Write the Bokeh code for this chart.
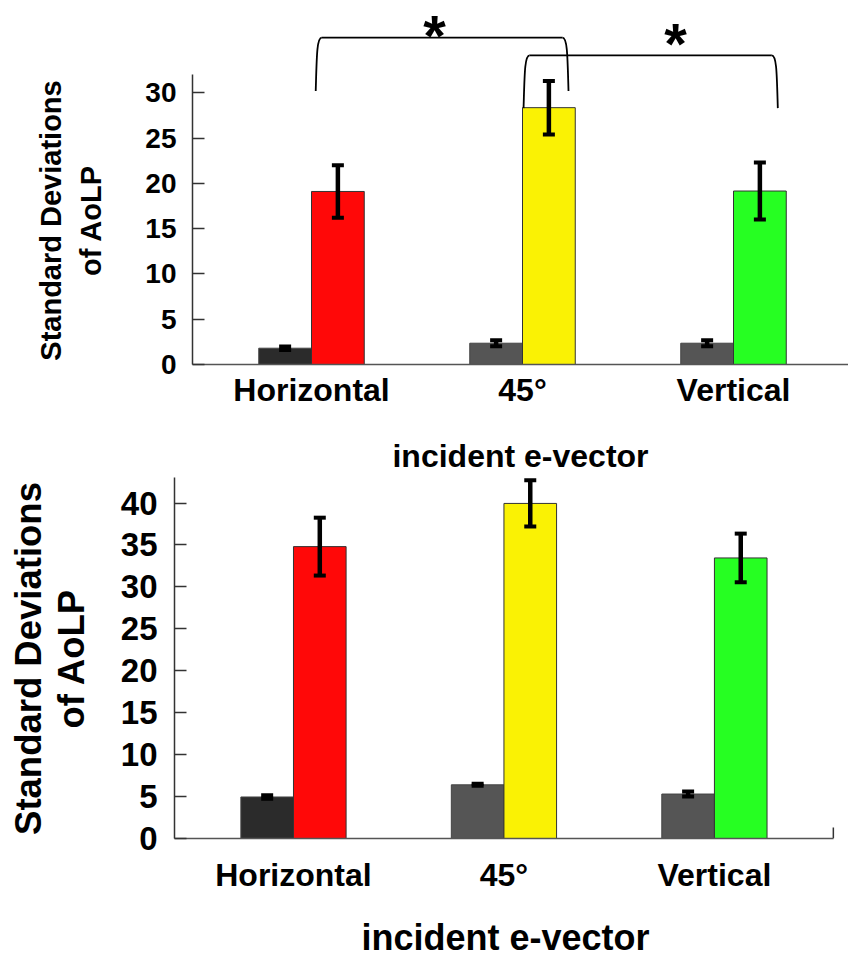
import math
from bokeh.plotting import figure
from bokeh.layouts import column, row
from bokeh.models import Range1d, FixedTicker, Whisker, TeeHead, ColumnDataSource
from bokeh.core.properties import value
from bokeh.embed import file_html
from bokeh.resources import INLINE

# ---------------- data ----------------
categories = ["Horizontal", "45°", "Vertical"]
colors = ["#FF0808", "#FAF204", "#26FF22"]
dark_colors = ["#2B2B2B", "#555555", "#555555"]

top_dark = [1.8, 2.35, 2.35]
top_dark_err = [0.2, 0.33, 0.33]
top_color = [19.1, 28.35, 19.15]
top_color_err = [2.9, 2.95, 3.15]

bot_dark = [4.95, 6.4, 5.3]
bot_dark_err = [0.2, 0.12, 0.3]
bot_color = [34.8, 39.95, 33.45]
bot_color_err = [3.45, 2.75, 2.9]

top_ticks = [0, 5, 10, 15, 20, 25, 30]
bot_ticks = [0, 5, 10, 15, 20, 25, 30, 35, 40]

ylabel_lines = ["Standard Deviations", "of AoLP"]
xlabel = "incident e-vector"

FONT = "Liberation Sans"
BAR_W = 0.25


def make_chart(width, height, xr, yr, ybounds, ticks, dark, dark_err, col, col_err,
               mb_left, mb_right, mb_bottom, ytick_fs, ytick_standoff,
               xtick_fs, xlab_fs, xtick_standoff, xlab_standoff, xbounds=None):
    p = figure(width=width, height=height, output_backend="svg",
               toolbar_location=None, x_range=Range1d(*xr),
               y_range=Range1d(*yr), min_border_left=mb_left,
               min_border_right=mb_right, min_border_top=0,
               min_border_bottom=mb_bottom, frame_align=False)
    p.outline_line_color = None
    p.grid.visible = False
    p.background_fill_color = "white"

    pos = list(range(len(categories)))
    xs_dark = [i - BAR_W / 2 for i in pos]
    xs_col = [i + BAR_W / 2 for i in pos]

    p.vbar(x=xs_dark, top=dark, width=BAR_W, bottom=0, fill_color=dark_colors,
           line_color="#444444", line_width=1)
    p.vbar(x=xs_col, top=col, width=BAR_W, bottom=0, fill_color=colors,
           line_color="#333333", line_width=1)

    src = ColumnDataSource(dict(
        base=xs_dark + xs_col,
        upper=[v + e for v, e in zip(dark, dark_err)] + [v + e for v, e in zip(col, col_err)],
        lower=[v - e for v, e in zip(dark, dark_err)] + [v - e for v, e in zip(col, col_err)],
    ))
    w = Whisker(source=src, base="base", upper="upper", lower="lower",
                line_color="black", line_width=4.5, line_cap="butt",
                upper_head=TeeHead(size=12, line_width=4, line_color="black"),
                lower_head=TeeHead(size=12, line_width=4, line_color="black"),
                level="annotation")
    p.add_layout(w)

    # y axis
    ya = p.yaxis[0]
    ya.ticker = FixedTicker(ticks=ticks)
    ya.bounds = ybounds
    ya.major_tick_in = 12
    ya.major_tick_out = 0
    ya.minor_tick_line_color = None
    ya.axis_line_color = "#333333"
    ya.axis_line_width = 1.5
    ya.major_tick_line_color = "#333333"
    ya.major_tick_line_width = 1.5
    ya.major_label_text_font = FONT
    ya.major_label_text_font_style = "bold"
    ya.major_label_text_font_size = f"{ytick_fs}px"
    ya.major_label_text_color = "black"
    ya.major_label_standoff = ytick_standoff

    # x axis
    xa = p.xaxis[0]
    xa.ticker = FixedTicker(ticks=pos)
    xa.major_label_overrides = {i: c for i, c in zip(pos, categories)}
    if xbounds is not None:
        xa.bounds = xbounds
    xa.major_tick_in = 0
    xa.major_tick_out = 0
    xa.minor_tick_line_color = None
    xa.axis_line_color = "#555555"
    xa.axis_line_width = 1.5
    xa.major_label_text_font = FONT
    xa.major_label_text_font_style = "bold"
    xa.major_label_text_font_size = f"{xtick_fs}px"
    xa.major_label_text_color = "black"
    xa.major_label_standoff = xtick_standoff
    xa.axis_label = xlabel
    xa.axis_label_text_font = FONT
    xa.axis_label_text_font_style = "bold"
    xa.axis_label_text_font_size = f"{xlab_fs}px"
    xa.axis_label_text_color = "black"
    xa.axis_label_standoff = xlab_standoff
    return p


def ylabel_panel(width, height, x_lines, y_center_from_top, fs):
    """Narrow panel holding the two-line rotated y-axis title (pixel coordinates)."""
    p = figure(width=width, height=height, output_backend="svg",
               toolbar_location=None, x_range=Range1d(0, width),
               y_range=Range1d(0, height), min_border=0,
               x_axis_location=None, y_axis_location=None, frame_align=False)
    p.outline_line_color = None
    p.grid.visible = False
    p.text(x=x_lines, y=[height - y_center_from_top] * len(x_lines),
           text=ylabel_lines, angle=math.pi / 2, text_align="center",
           text_baseline="middle", text_font=value(FONT),
           text_font_style="bold", text_font_size=f"{fs}px", text_color="black")
    return p


def bracket(p, x_left, x_right, y_top, y_bot_l, y_bot_r, px_x, px_y):
    rx = 6 / px_x
    ry = 10 / px_y
    p.segment(x0=[x_left + rx], y0=[y_top], x1=[x_right - rx], y1=[y_top],
              line_color="black", line_width=1.8)
    p.bezier(x0=[x_left, x_right], y0=[y_bot_l, y_bot_r],
             x1=[x_left + rx, x_right - rx], y1=[y_top, y_top],
             cx0=[x_left + 1 / px_x, x_right - 1 / px_x],
             cy0=[y_top - ry * 2, y_top - ry * 2],
             cx1=[x_left + 1 / px_x, x_right - 1 / px_x],
             cy1=[y_top, y_top],
             line_color="black", line_width=1.8)


# ---------------- top chart ----------------
TOP_H = 476
TOP_LAB_W = 130
TOP_PX_X = 211.0
TOP_PX_Y = 9.083
top = make_chart(width=848 - TOP_LAB_W, height=TOP_H, xr=(-0.564, 2.545),
                 yr=(0, 40.18), ybounds=(0, 32), ticks=top_ticks, dark=top_dark,
                 dark_err=top_dark_err, col=top_color, col_err=top_color_err,
                 mb_left=192 - TOP_LAB_W, mb_right=0, mb_bottom=111, ytick_fs=28,
                 ytick_standoff=16, xtick_fs=32, xlab_fs=32,
                 xtick_standoff=7, xlab_standoff=27)
top_lab = ylabel_panel(TOP_LAB_W, TOP_H, [50, 90], 220, 29)

# brackets relative to category positions (0: Horizontal, 1: 45°, 2: Vertical)
bracket(top, 0 + 0.02, 1 + 0.218, 36.08, 30.2, 30.2, TOP_PX_X, TOP_PX_Y)
bracket(top, 1 + 0.005, 2 + 0.21, 34.13, 28.3, 28.3, TOP_PX_X, TOP_PX_Y)
top.text(x=[0.583, 1.725], y=[36.3, 35.4], text=["*", "*"],
         text_font=value(FONT), text_font_style="bold", text_font_size="58px",
         text_align="center", text_baseline="alphabetic", text_color="black")

# ---------------- bottom chart ----------------
BOT_H = 484
BOT_LAB_W = 115
BOT_PX_Y = 8.41
bot = make_chart(width=848 - BOT_LAB_W, height=BOT_H, xr=(-0.5653, 2.580),
                 yr=(0, 43.16), ybounds=(0, 43), ticks=bot_ticks, dark=bot_dark,
                 dark_err=bot_dark_err, col=bot_color, col_err=bot_color_err,
                 mb_left=174 - BOT_LAB_W, mb_right=12, mb_bottom=121, ytick_fs=33,
                 ytick_standoff=17, xtick_fs=32, xlab_fs=36,
                 xtick_standoff=18, xlab_standoff=21,
                 xbounds=(-0.5653, 2.565))
bot_lab = ylabel_panel(BOT_LAB_W, BOT_H, [28, 71], 182, 36.5)
# end tick on the x axis
bot.segment(x0=[2.565], y0=[0], x1=[2.565], y1=[11 / BOT_PX_Y],
            line_color="#333333", line_width=1.5)

layout = column(row(top_lab, top, spacing=0), row(bot_lab, bot, spacing=0), spacing=0)
open("out.html", "w").write(file_html(layout, INLINE))
